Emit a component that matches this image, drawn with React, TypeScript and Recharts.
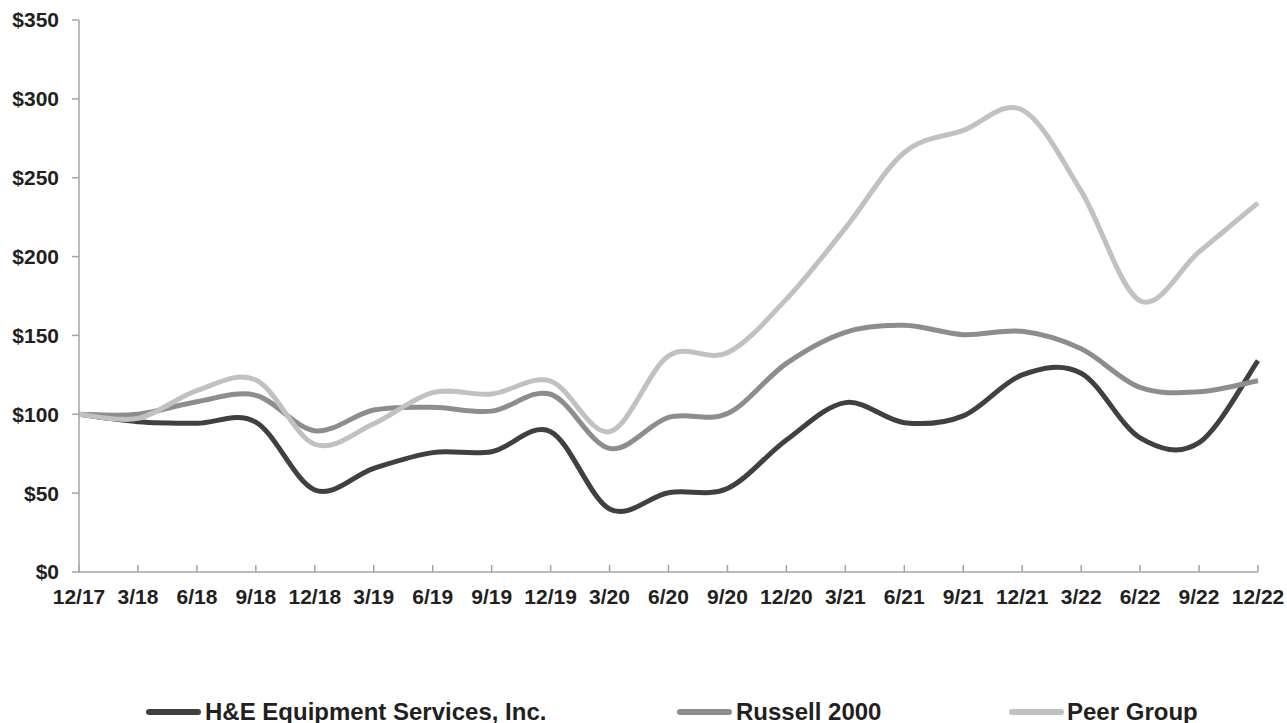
import { CartesianGrid, Line, LineChart, XAxis, YAxis } from "recharts";

const quarters = [
  "12/17", "3/18", "6/18", "9/18", "12/18", "3/19", "6/19", "9/19", "12/19", "3/20",
  "6/20", "9/20", "12/20", "3/21", "6/21", "9/21", "12/21", "3/22", "6/22", "9/22", "12/22",
];
const heValues = [
  100, 95.3, 94.3, 95, 52, 65.7, 75.7, 76.3, 89, 40,
  50.3, 53, 83.7, 107.4, 94.7, 99, 125, 126, 85, 82, 134,
];
const russellValues = [
  100, 100, 108, 112, 89.6, 102.7, 104.4, 102, 112.7, 78.4,
  98, 100.5, 132.3, 152, 156.4, 150.5, 152.6, 141.5, 117, 114.3, 121.3,
];
const peerValues = [
  100, 97.4, 115, 121.7, 81, 94, 113.7, 112.9, 121, 89,
  137, 139, 173, 218, 266, 280, 293, 241.5, 172, 203, 234,
];
const yTicks = [0, 50, 100, 150, 200, 250, 300, 350];

const series = [
  { key: "he", label: "H&E Equipment Services, Inc.", hex: "#404041", lineX: 146, textX: 205 },
  { key: "russell", label: "Russell 2000", hex: "#8d8d90", lineX: 677, textX: 736 },
  { key: "peer", label: "Peer Group", hex: "#c1c1c3", lineX: 1009, textX: 1067 },
];

const rows = quarters.map((q, i) => ({
  q,
  he: heValues[i],
  russell: russellValues[i],
  peer: peerValues[i],
}));

const FONT = "'Liberation Sans', Arial, sans-serif";
const AXIS = "#a4a4a8";
const INK = "#231f20";

// Excel-style smoothed line (Catmull-Rom converted to cubic beziers)
function smoothCurve(context: any) {
  let pts: number[][] = [];
  return {
    areaStart() {},
    areaEnd() {},
    lineStart() {
      pts = [];
    },
    point(x: number, y: number) {
      pts.push([+x, +y]);
    },
    lineEnd() {
      if (!pts.length) return;
      context.moveTo(pts[0][0], pts[0][1]);
      for (let i = 0; i < pts.length - 1; i++) {
        const p0 = pts[i - 1] || pts[i];
        const p1 = pts[i];
        const p2 = pts[i + 1];
        const p3 = pts[i + 2] || p2;
        context.bezierCurveTo(
          p1[0] + (p2[0] - p0[0]) / 6,
          p1[1] + (p2[1] - p0[1]) / 6,
          p2[0] - (p3[0] - p1[0]) / 6,
          p2[1] - (p3[1] - p1[1]) / 6,
          p2[0],
          p2[1]
        );
      }
    },
  };
}

function XTick(props: any) {
  const { x, y, payload } = props;
  return (
    <g>
      <line x1={x} x2={x} y1={y} y2={y - 7} stroke={AXIS} strokeWidth={1.5} />
      <text
        x={x}
        y={y + 32}
        textAnchor="middle"
        fill={INK}
        fontSize={21}
        fontWeight="bold"
        fontFamily={FONT}
      >
        {payload.value}
      </text>
    </g>
  );
}

export default function App() {
  return (
    <div
      style={{
        position: "absolute",
        left: 0,
        top: 0,
        width: 1287,
        height: 723,
        background: "#fff",
        fontFamily: FONT,
      }}
    >
      <LineChart
        width={1287}
        height={620}
        data={rows}
        margin={{ top: 20, right: 29, bottom: 8, left: 0 }}
      >
        <CartesianGrid vertical={false} horizontal={false} />
        <XAxis
          dataKey="q"
          height={40}
          interval={0}
          tickSize={0}
          tickMargin={0}
          tickLine={false}
          axisLine={{ stroke: AXIS, strokeWidth: 1.5 }}
          tick={<XTick />}
        />
        <YAxis
          width={79}
          domain={[0, 350]}
          ticks={yTicks}
          interval={0}
          tickSize={7}
          tickMargin={13}
          axisLine={{ stroke: AXIS, strokeWidth: 1.5 }}
          tickLine={{ stroke: AXIS, strokeWidth: 1.5 }}
          tick={{ fill: INK, fontSize: 21, fontWeight: "bold", fontFamily: FONT }}
          tickFormatter={(v: number) => `$${v}`}
        />
        {series.map((s) => (
          <Line
            key={s.key}
            type={smoothCurve as any}
            dataKey={s.key}
            name={s.label}
            stroke={s.hex}
            strokeWidth={5}
            dot={false}
            activeDot={false}
            isAnimationActive={false}
          />
        ))}
      </LineChart>

      <svg
        width={1287}
        height={33}
        style={{ position: "absolute", left: 0, top: 690 }}
      >
        {series.map((s) => (
          <g key={s.key}>
            <line
              x1={s.lineX + 3}
              x2={s.lineX + 52}
              y1={22}
              y2={22}
              stroke={s.hex}
              strokeWidth={6}
              strokeLinecap="round"
            />
            <text
              x={s.textX}
              y={29.5}
              fill={INK}
              fontSize={24}
              fontWeight="bold"
              fontFamily={FONT}
            >
              {s.label}
            </text>
          </g>
        ))}
      </svg>
    </div>
  );
}
